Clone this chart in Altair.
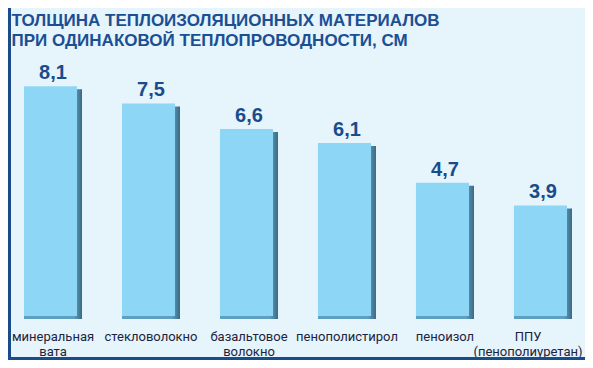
import altair as alt
import pandas as pd

categories = ["минеральная\nвата", "стекловолокно", "базальтовое\nволокно",
              "пенополистирол", "пеноизол", "ППУ\n(пенополиуретан)"]
values = [8.1, 7.5, 6.6, 6.1, 4.7, 3.9]
labels = ["8,1", "7,5", "6,6", "6,1", "4,7", "3,9"]
title_lines = ["ТОЛЩИНА ТЕПЛОИЗОЛЯЦИОННЫХ МАТЕРИАЛОВ",
               "ПРИ ОДИНАКОВОЙ ТЕПЛОПРОВОДНОСТИ, СМ"]

df = pd.DataFrame({"cat": categories, "val": values, "lab": labels})

LABEL_FONT = "Roboto, sans-serif"
BOLD = "Liberation Sans, Arial, sans-serif"

last_test = "indexof(datum.label, '(') >= 0"

x = alt.X("cat:N", sort=categories,
          scale=alt.Scale(paddingInner=0.408, paddingOuter=0),
          axis=alt.Axis(title=None, domain=False, ticks=False, labelAngle=0,
                        labelExpr="split(datum.label, '\\n')",
                        labelFont=LABEL_FONT, labelFontSize=13, labelColor="#1c2340",
                        labelLineHeight=15, labelPadding=14, labelBaseline="top",
                        labelOverlap=False,
                        labelOffset={"condition": {"test": last_test, "value": -15},
                                     "value": 0}))
y = alt.Y("val:Q", scale=alt.Scale(domain=[0, 248 / 28.35], nice=False, zero=True),
          axis=None)

base = alt.Chart(df)

shadow = base.mark_bar(
    yOffset=3,
    color=alt.Gradient(gradient="linear", x1=0, x2=1, y1=0, y2=0,
                       stops=[alt.GradientStop(offset=0, color="#5f9fc0"),
                              alt.GradientStop(offset=0.86, color="#5f9fc0"),
                              alt.GradientStop(offset=1, color="#3b6a84")])
).encode(x=x, y=y)

light = base.mark_bar(
    color="#8ed6f5", xOffset=-2.5, y2Offset=-6,
    width=alt.RelativeBandSize(0.914)
).encode(x=x, y=y)

text = base.mark_text(
    baseline="bottom", dy=-3, font=BOLD, fontWeight="bold", fontSize=20,
    color="#1a4c8c"
).encode(x=x, y=y, text="lab:N")

left_border = alt.Chart(df).mark_rule(color="#1a4c8c", strokeWidth=3).encode(
    x=alt.value(-14.5), y=alt.value(-60), y2=alt.value(292))
bottom_border = alt.Chart(df).mark_rule(color="#1a4c8c", strokeWidth=3).encode(
    x=alt.value(-16), x2=alt.value(561), y=alt.value(290.5))

chart = alt.layer(shadow, light, text, left_border, bottom_border).properties(
    width=548, height=248,
    autosize=alt.AutoSizeParams(type="none"),
    padding={"left": 16, "right": 13, "top": 60, "bottom": 44},
    background="#e6f4fb",
    title=alt.TitleParams(text=title_lines, anchor="start", dx=5, dy=43, offset=0,
                          font=BOLD, fontSize=17, fontWeight="bold",
                          color="#1b4f93", lineHeight=20),
).configure_view(stroke=None)

chart.save("out.html", embed_options={"renderer": "svg", "actions": False})
